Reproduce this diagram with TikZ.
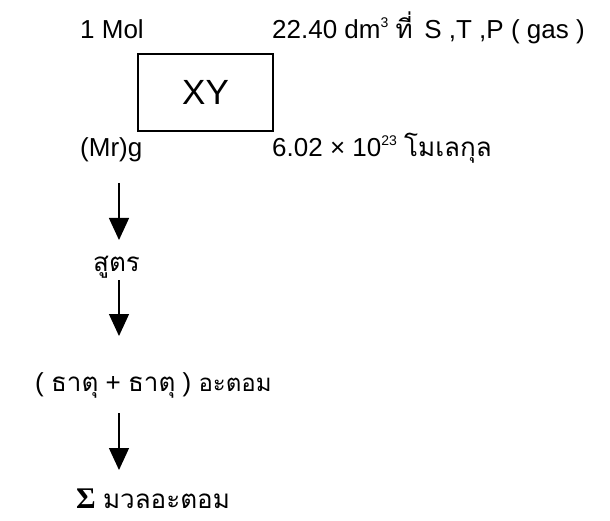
\documentclass[tikz,border=0pt]{standalone}
\usepackage{fontspec}
\setmainfont{Liberation Sans}
\newfontfamily\thaifont[Script=Thai]{Loma}
\newfontfamily\sigfont{Liberation Serif}
\usetikzlibrary{arrows.meta}
\tikzset{
  lbl/.style={anchor=base west, inner sep=0pt, font=\fontsize{26}{30}\selectfont},
  bigbox/.style={draw, line width=1.2pt, minimum width=135pt, minimum height=77pt, inner sep=0pt},
  flow/.style={line width=1.3pt, -{Triangle[width=20pt,length=22pt]}}
}
\newcommand{\thx}[1]{{\thaifont #1}}
\newcommand{\supx}[1]{\raisebox{11pt}{\fontsize{14}{16}\selectfont #1}}
\begin{document}
\begin{tikzpicture}[x=1pt,y=-1pt]
\useasboundingbox (0,0) rectangle (610,521);
\node[lbl] (mol) at (80,39) {1 Mol};
\node[lbl] (vol) at (272,39) {22.40 dm\supx{3} \thx{ที่}\, S ,T ,P ( gas )};
\node[bigbox] (xy) at (205.5,92.5) {\fontsize{35}{40}\selectfont XY};
\node[lbl] (mr) at (80,157) {(Mr)g};
\node[lbl] (num) at (272,157) {6.02 × 10\supx{23} \thx{โมเลกุล}};
\node[lbl] (sut) at (93,272) {\thx{สูตร}};
\node[lbl] (tat) at (35,391) {( \thx{ธาตุ} + \thx{ธาตุ} ) \thx{\fontsize{24}{28}\selectfont อะตอม}};
\node[lbl] (sum) at (76,508) {{\sigfont\bfseries\fontsize{30}{34}\selectfont Σ} \thx{มวลอะตอม}};
\coordinate (a1s) at (119,183);
\coordinate (a1e) at (119,240);
\coordinate (a2s) at (119,280);
\coordinate (a2e) at (119,336);
\coordinate (a3s) at (119,413);
\coordinate (a3e) at (119,470);
\draw[flow] (a1s) -- (a1e);
\draw[flow] (a2s) -- (a2e);
\draw[flow] (a3s) -- (a3e);
\end{tikzpicture}
\end{document}
